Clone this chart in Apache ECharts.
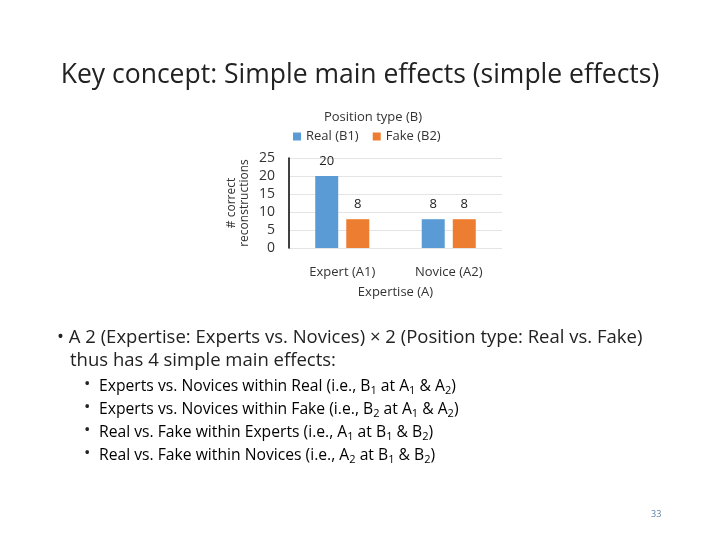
<!DOCTYPE html>
<html><head><meta charset="utf-8">
<script src="https://cdn.jsdelivr.net/npm/echarts@6/dist/echarts.min.js"></script>
<style>body{margin:0;background:#fff}#c{width:720px;height:540px}</style>
</head><body><div id="c"></div>
<script>
const categories = ['Expert (A1)', 'Novice (A2)'];
const realB1 = [20, 8];
const fakeB2 = [8, 8];
const yTicks = [0, 5, 10, 15, 20, 25];

const font = 'Open Sans, Lato, sans-serif';
const sub = {fontSize: 11, fontFamily: font, color: '#222', padding: [8, 0, 0, 0]};
const norm = {fontSize: 15.7, fontFamily: font, color: '#222'};
const bullets = [
  '{n|Experts vs. Novices within Real (i.e., B}{s|1}{n| at A}{s|1}{n| & A}{s|2}{n|)}',
  '{n|Experts vs. Novices within Fake (i.e., B}{s|2}{n| at A}{s|1}{n| & A}{s|2}{n|)}',
  '{n|Real vs. Fake within Experts (i.e., A}{s|1}{n| at B}{s|1}{n| & B}{s|2}{n|)}',
  '{n|Real vs. Fake within Novices (i.e., A}{s|2}{n| at B}{s|1}{n| & B}{s|2}{n|)}'
];

const chart = echarts.init(document.getElementById('c'));
const graphics = [
  {type: 'text', left: 'center', top: 62, style: {text: 'Key concept: Simple main effects (simple effects)', font: '26.5px ' + font, fill: '#222'}},
  {type: 'text', x: 57, y: 328, style: {text: '• A 2 (Expertise: Experts vs. Novices) × 2 (Position type: Real vs. Fake)', font: '18.5px ' + font, fill: '#222'}},
  {type: 'text', x: 70, y: 351, style: {text: 'thus has 4 simple main effects:', font: '18.5px ' + font, fill: '#222'}},
  {type: 'text', x: 651, y: 510, style: {text: '33', font: '9px ' + font, fill: '#5b7fa8'}}
];
bullets.forEach((b, i) => {
  graphics.push({type: 'text', x: 84, y: 376 + i * 23, style: {text: '•', font: '17px ' + font, fill: '#222'}});
  graphics.push({type: 'text', x: 99, y: 377 + i * 23, style: {text: b, rich: {n: norm, s: sub}}});
});

chart.setOption({
  animation: false,
  title: {text: 'Position type (B)', left: 368, textAlign: 'center', top: 106, textStyle: {fontSize: 13, fontWeight: 'normal', fontFamily: font, color: '#333'}},
  legend: {top: 125, left: 368 - 80, itemWidth: 8, itemHeight: 8, itemGap: 14, icon: 'rect',
    textStyle: {fontSize: 13, fontFamily: font, color: '#333'}},
  grid: {left: 289, right: 720 - 502, top: 158, bottom: 540 - 248},
  xAxis: {type: 'category', data: categories, name: 'Expertise (A)', nameLocation: 'middle', nameGap: 38,
    nameTextStyle: {fontSize: 13, fontFamily: font, color: '#333'},
    axisLine: {show: false}, axisTick: {show: false},
    axisLabel: {fontSize: 13, fontFamily: font, color: '#333', margin: 18}},
  yAxis: {type: 'value', min: yTicks[0], max: yTicks[yTicks.length - 1], interval: 5,
    name: '# correct\nreconstructions', nameLocation: 'middle', nameGap: 38,
    nameTextStyle: {fontSize: 12, fontFamily: font, color: '#333', lineHeight: 13},
    axisLine: {show: true, lineStyle: {color: '#000', width: 1.5}},
    axisLabel: {fontSize: 14, fontFamily: font, color: '#333', margin: 14},
    splitLine: {lineStyle: {color: '#e4e4e4'}}},
  series: [
    {name: 'Real (B1)', type: 'bar', data: realB1, barWidth: 23, barGap: '35%', itemStyle: {color: '#5b9bd5'},
      label: {show: true, position: 'top', distance: 8, fontSize: 13, fontFamily: font, color: '#222'}},
    {name: 'Fake (B2)', type: 'bar', data: fakeB2, barWidth: 23, itemStyle: {color: '#ed7d31'},
      label: {show: true, position: 'top', distance: 8, fontSize: 13, fontFamily: font, color: '#222'}}
  ],
  graphic: graphics
});
</script></body></html>
